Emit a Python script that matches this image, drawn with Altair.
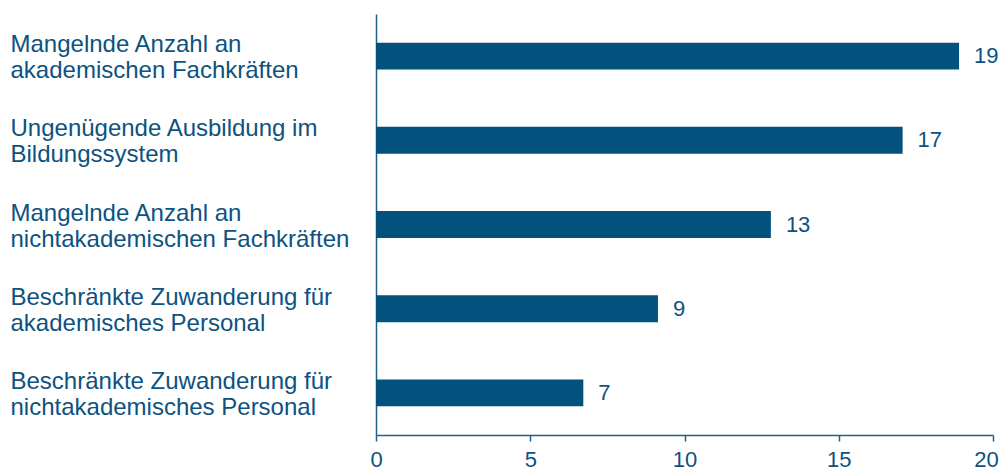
import altair as alt
import pandas as pd

categories = [
    "Mangelnde Anzahl an|akademischen Fachkräften",
    "Ungenügende Ausbildung im|Bildungssystem",
    "Mangelnde Anzahl an|nichtakademischen Fachkräften",
    "Beschränkte Zuwanderung für|akademisches Personal",
    "Beschränkte Zuwanderung für|nichtakademisches Personal",
]
values = [18.9, 17.07, 12.8, 9.14, 6.72]
value_labels = ["19", "17", "13", "9", "7"]
x_ticks = [0, 5, 10, 15, 20]

df = pd.DataFrame({"cat": categories, "val": values, "lab": value_labels})

BLUE = "#03517d"
TXT = "#0d5280"
AXC = "#22608a"
FONT = "Liberation Sans"

y = alt.Y(
    "cat:N",
    sort=None,
    scale=alt.Scale(paddingInner=0.68, paddingOuter=0.34),
    axis=alt.Axis(
        title=None,
        ticks=False,
        labelAlign="left",
        labelBaseline="middle",
        labelPadding=366,
        labelOffset=-11,
        labelExpr="split(datum.label, '|')",
        labelLineHeight=26,
        labelFontSize=24,
        labelFont=FONT,
        labelColor=TXT,
        labelLimit=400,
        domainColor=AXC,
        domainWidth=1.5,
        grid=False,
    ),
)

x = alt.X(
    "val:Q",
    scale=alt.Scale(domain=[0, 20], nice=False),
    axis=alt.Axis(
        title=None,
        values=x_ticks,
        tickSize=6,
        tickColor=AXC,
        tickWidth=1.5,
        domainColor=AXC,
        domainWidth=1.5,
        labelFontSize=22,
        labelFont=FONT,
        labelColor=TXT,
        labelPadding=8,
        labelOffset={"condition": {"test": "datum.value == 20", "value": -7}, "value": 0},
        grid=False,
        labelFlush=False,
    ),
)

bars = alt.Chart(df).mark_bar(color=BLUE).encode(x=x, y=y)
texts = alt.Chart(df).mark_text(
    align="left", baseline="middle", dx=15, fontSize=22, font=FONT, color=TXT
).encode(x="val:Q", y=alt.Y("cat:N", sort=None), text="lab:N")

chart = (
    alt.layer(bars, texts)
    .properties(
        width=617,
        height=421,
        autosize=alt.AutoSizeParams(type="none"),
        padding={"left": 368, "top": 6, "right": 7, "bottom": 40},
    )
    .configure_view(stroke=None)
)

chart.save("out.html", embed_options={"renderer": "svg", "actions": False})
